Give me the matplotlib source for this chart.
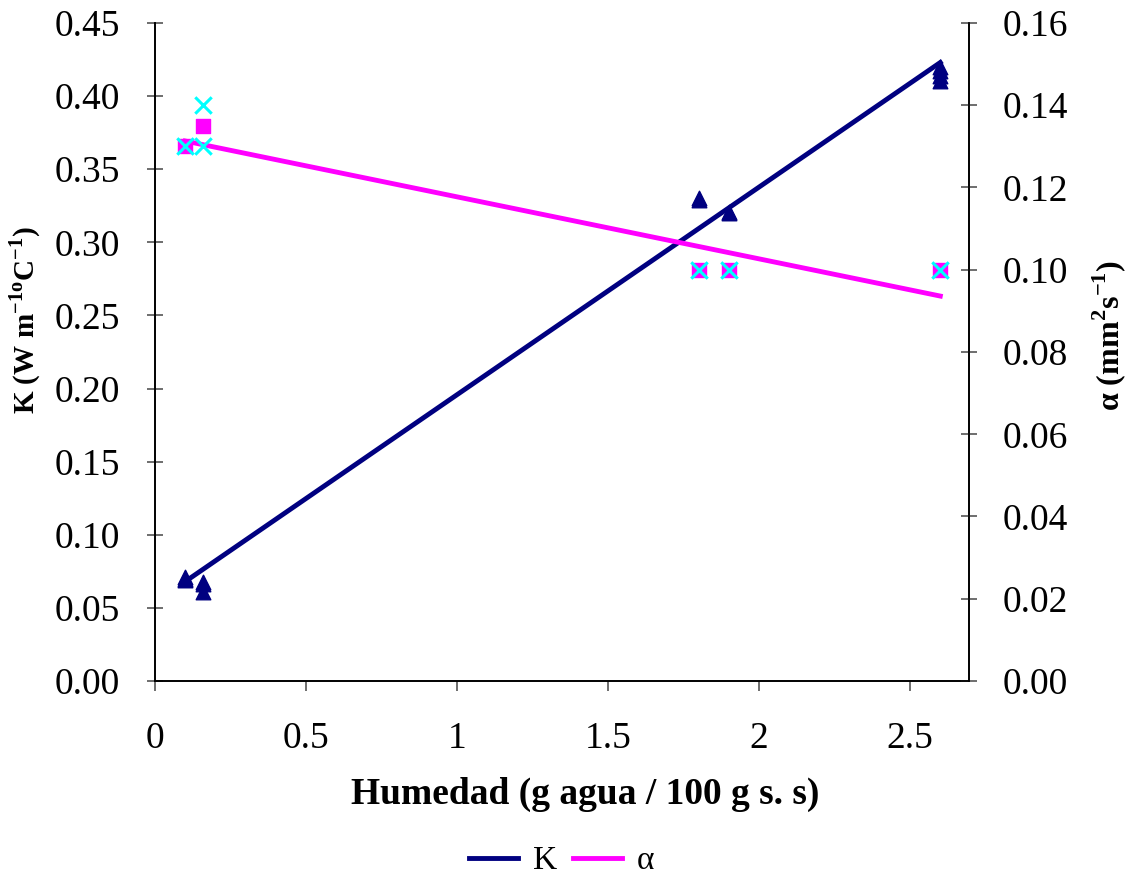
import matplotlib.pyplot as plt
import numpy as np

plt.rcParams['font.family'] = ['Liberation Serif', 'DejaVu Serif']
plt.rcParams['mathtext.fontset'] = 'custom'
plt.rcParams['mathtext.rm'] = 'Liberation Serif'
plt.rcParams['mathtext.bf'] = 'Liberation Serif:bold'

# humidity (g water / 100 g dry solid)
k_x = [0.1, 0.1, 0.1, 0.16, 0.16, 0.16, 1.8, 1.8, 1.9, 1.9, 2.6, 2.6, 2.6, 2.6]
k_y = [0.070, 0.069, 0.071, 0.068, 0.066, 0.061, 0.330, 0.329, 0.320, 0.321,
       0.420, 0.417, 0.414, 0.410]
# fitted K line
k_line_x = [0.1, 2.6]
k_line_y = [0.068, 0.423]

a_sq_x = [0.1, 0.16, 1.8, 1.9, 2.6]
a_sq_y = [0.130, 0.135, 0.100, 0.100, 0.100]
a_x_x = [0.1, 0.16, 0.16, 1.8, 1.9, 2.6]
a_x_y = [0.130, 0.140, 0.130, 0.100, 0.100, 0.100]
# fitted alpha line
a_line_x = [0.1, 2.6]
a_line_y = [0.1313, 0.0936]

navy = '#000080'
magenta = '#FF00FF'
cyan = '#00FFFF'

fig = plt.figure(figsize=(11.35, 8.8), dpi=100)
ax = fig.add_axes([155 / 1135, 1 - 681 / 880, (969 - 155) / 1135, (681 - 23) / 880])
ax2 = ax.twinx()

ax.scatter(k_x, k_y, marker='^', s=110, color=navy, zorder=3)
ln1, = ax.plot(k_line_x, k_line_y, color=navy, lw=3.5, zorder=4)
ax2.scatter(a_sq_x, a_sq_y, marker='s', s=90, color=magenta, zorder=3)
ax2.scatter(a_x_x, a_x_y, marker='x', s=140, color=cyan, linewidths=2.2, zorder=4)
ln2, = ax2.plot(a_line_x, a_line_y, color=magenta, lw=3.5, zorder=2)

ax.set_xlim(0, 2.695)
ax.set_ylim(0, 0.45)
ax2.set_ylim(0, 0.16)
ax.set_xticks([0, 0.5, 1, 1.5, 2, 2.5])
ax.set_xticklabels(['0', '0.5', '1', '1.5', '2', '2.5'])
ax.set_yticks(np.arange(0, 0.46, 0.05))
ax.set_yticklabels([f'{v:.2f}' for v in np.arange(0, 0.46, 0.05)])
ax2.set_yticks(np.arange(0, 0.161, 0.02))
ax2.set_yticklabels([f'{v:.2f}' for v in np.arange(0, 0.161, 0.02)])

for a in (ax, ax2):
    a.spines['top'].set_visible(False)
    a.tick_params(labelsize=27, direction='inout', length=12, width=1.2, color='#555555')
    for s in a.spines.values():
        s.set_linewidth(1.2)
ax.tick_params(axis='x', direction='out', length=7, pad=22)
ax.tick_params(axis='y', pad=19)
ax2.tick_params(axis='y', pad=18)

ax.set_xlabel('Humedad (g agua / 100 g s. s)', fontsize=27, fontweight='bold')
ax.xaxis.set_label_coords(0.528, -0.145)
ax.set_ylabel(r'K (W m$^{\mathbf{-1o}}$C$^{\mathbf{-1}}$)', fontsize=21, fontweight='bold')
ax.yaxis.set_label_coords(-0.137, 0.548)
ax2.set_ylabel(r'α (mm$^{\mathbf{2}}$s$^{\mathbf{-1}}$)', fontsize=23, fontweight='bold')
ax2.yaxis.set_label_coords(1.149, 0.525)

fig.legend([ln1, ln2], ['K', 'α'], loc='lower center', ncol=2, frameon=False,
           fontsize=24, bbox_to_anchor=(0.495, -0.03), handlelength=1.45,
           handletextpad=0.45, columnspacing=0.5)

fig.savefig('out.png', dpi=100)
